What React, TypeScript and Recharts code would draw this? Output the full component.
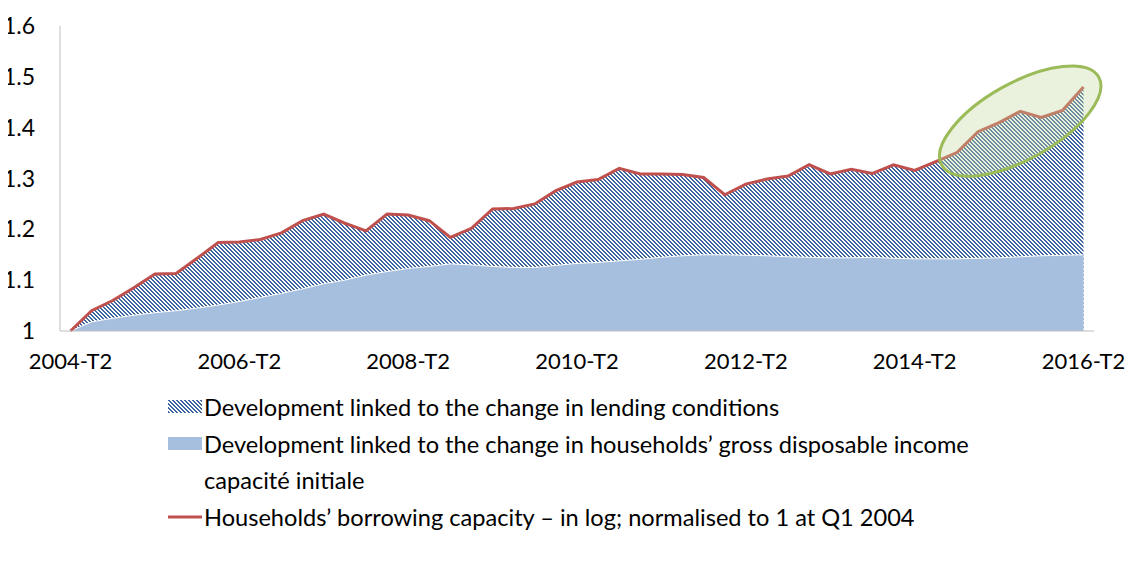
import React from "react";
import {
  ComposedChart,
  Area,
  Line,
  XAxis,
  YAxis,
  Legend,
  ReferenceDot,
} from "recharts";

// quarterly labels 2004-T2 .. 2016-T2
const quarters: string[] = [];
for (let y = 2004; y <= 2016; y++) {
  for (let q = 1; q <= 4; q++) {
    if ((y === 2004 && q < 2) || (y === 2016 && q > 2)) continue;
    quarters.push(`${y}-T${q}`);
  }
}

const tickLabels = ["2004-T2", "2006-T2", "2008-T2", "2010-T2", "2012-T2", "2014-T2", "2016-T2"];
const yTicks = [1, 1.1, 1.2, 1.3, 1.4, 1.5, 1.6];

// households' borrowing capacity (red line)
const borrowing = [
  1.0, 1.04, 1.06, 1.085, 1.112, 1.113, 1.143, 1.174, 1.175, 1.18, 1.193, 1.217, 1.23,
  1.212, 1.197, 1.23, 1.228, 1.217, 1.184, 1.202, 1.24, 1.241, 1.25, 1.276, 1.293,
  1.298, 1.32, 1.309, 1.309, 1.308, 1.302, 1.268, 1.289, 1.299, 1.305, 1.327, 1.309,
  1.318, 1.31, 1.327, 1.316, 1.333, 1.351, 1.392, 1.41, 1.432, 1.42, 1.434, 1.48,
];

// level explained by gross disposable income (blue area)
const income = [
  1.0, 1.018, 1.025, 1.031, 1.036, 1.04, 1.045, 1.051, 1.058, 1.066, 1.074, 1.083, 1.093,
  1.1, 1.11, 1.117, 1.123, 1.127, 1.132, 1.13, 1.127, 1.125, 1.125, 1.129, 1.133,
  1.135, 1.138, 1.141, 1.145, 1.148, 1.15, 1.15, 1.149, 1.148, 1.146, 1.145, 1.144,
  1.144, 1.145, 1.143, 1.142, 1.142, 1.142, 1.143, 1.144, 1.146, 1.148, 1.149, 1.15,
];

const legendItems = [
  { label: "Development linked to the change in lending conditions", icon: "hatch" },
  { label: "Development linked to the change in households\u2019 gross disposable income", icon: "blue" },
  { label: "capacit\u00e9 initiale", icon: "none" },
  { label: "Households\u2019 borrowing capacity \u2013 in log; normalised to 1 at Q1 2004", icon: "line" },
];

const HATCH = "#3e66a1";
const BLUE = "#a7bfde";
const RED = "#c0504d";

const data = quarters.map((q, i) => ({ q, total: borrowing[i], income: income[i] }));

// pixel-aligned "\\" stripes, like the Excel wide downward diagonal fill
const hatchPath = "M0 0h2v1h-2z M1 1h2v1h-2z M2 2h2v1h-2z M3 3h1v1h-1z M0 3h1v1h-1z";

const HatchPattern = ({ id }: { id: string }) => (
  <pattern id={id} width={4} height={4} patternUnits="userSpaceOnUse">
    <rect width={4} height={4} fill="#fff" />
    <path d={hatchPath} fill={HATCH} shapeRendering="crispEdges" />
  </pattern>
);

const Icon = ({ kind }: { kind: string }) => (
  <svg width={34} height={14} style={{ marginRight: 2, flex: "none" }}>
    <defs>
      <HatchPattern id="hatchLeg" />
    </defs>
    {kind === "hatch" && <rect x={0} y={0} width={34} height={13} fill="url(#hatchLeg)" />}
    {kind === "blue" && <rect x={0} y={0} width={34} height={13} fill={BLUE} />}
    {kind === "line" && <line x1={0} y1={7} x2={34} y2={7} stroke={RED} strokeWidth={3} />}
  </svg>
);

const renderLegend = () => (
  <div style={{ fontFamily: "Lato", fontSize: 23.6, color: "#000" }}>
    {legendItems.map((it) => (
      <div key={it.label} style={{ display: "flex", alignItems: "center", height: 36.5 }}>
        <Icon kind={it.icon} />
        <span style={{ whiteSpace: "nowrap" }}>{it.label}</span>
      </div>
    ))}
  </div>
);

const Ellipse = (p: any) => (
  <ellipse
    cx={p.cx}
    cy={p.cy}
    rx={90}
    ry={38}
    transform={`rotate(-29.3 ${p.cx} ${p.cy})`}
    fill="#c3d69b"
    fillOpacity={0.35}
    stroke="#9bbb59"
    strokeWidth={3}
  />
);

export default function App() {
  return (
    <div style={{ margin: -8, position: "relative", width: 1134, height: 585, background: "#fff" }}>
      <div style={{ position: "absolute", top: 2, left: 0, width: 1134, height: 1, background: "#d4d4d4" }} />
      <ComposedChart
        width={1134}
        height={585}
        data={data}
        margin={{ top: 26, right: 40, left: 0, bottom: 214 }}
      >
        <defs>
          <HatchPattern id="hatch" />
        </defs>
        <XAxis
          dataKey="q"
          ticks={tickLabels}
          interval={0}
          height={40}
          tickLine={false}
          tickSize={0}
          tickMargin={22}
          padding={{ left: 10.5, right: 10.5 }}
          axisLine={{ stroke: "#bfbfbf" }}
          tick={{ fontFamily: "Lato", fontSize: 22, fill: "#000" }}
        />
        <YAxis
          domain={[1, 1.6]}
          ticks={yTicks}
          width={60}
          tickLine={false}
          tickSize={0}
          tickMargin={25}
          axisLine={{ stroke: "#bfbfbf" }}
          tickFormatter={(v: number) => String(Math.round(v * 10) / 10)}
          tick={{ fontFamily: "Lato", fontSize: 23, fill: "#000" }}
        />
        <Area
          type="linear"
          dataKey="total"
          stroke="none"
          fill="url(#hatch)"
          fillOpacity={1}
          isAnimationActive={false}
        />
        <Area
          type="linear"
          dataKey="income"
          stroke="#fff"
          strokeWidth={1}
          fill={BLUE}
          fillOpacity={1}
          isAnimationActive={false}
        />
        <Line
          type="linear"
          dataKey="total"
          stroke={RED}
          strokeWidth={3}
          dot={false}
          isAnimationActive={false}
        />
        <ReferenceDot x="2015-T3" y={1.413} shape={Ellipse} />
        <Legend
          content={renderLegend}
          layout="vertical"
          align="center"
          verticalAlign="middle"
          wrapperStyle={{ top: 389, left: 168, width: 940 }}
        />
      </ComposedChart>
    </div>
  );
}
